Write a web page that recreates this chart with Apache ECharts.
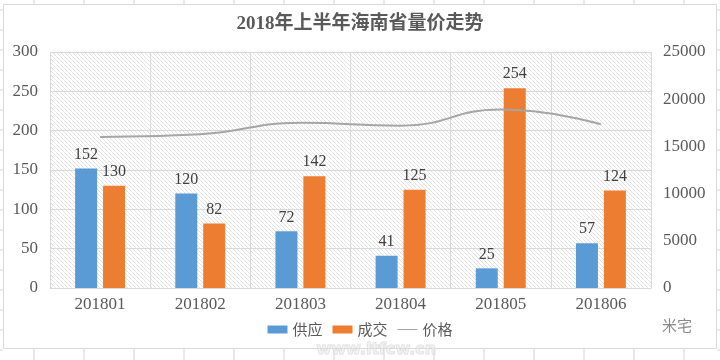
<!DOCTYPE html>
<html>
<head>
<meta charset="utf-8">
<script src="https://cdn.jsdelivr.net/npm/echarts@6/dist/echarts.min.js"></script>
<style>
html,body{margin:0;padding:0;background:#fff;}
#c{width:720px;height:360px;}
</style>
</head>
<body>
<div id="c"></div>
<script>
var categories = ['201801','201802','201803','201804','201805','201806'];
var supply = [152, 120, 72, 41, 25, 57];
var deals = [130, 82, 142, 125, 254, 124];
var price = [16000, 16300, 17500, 17200, 18900, 17350];
var leftTicks = [0, 300, 50];
var rightTicks = [0, 25000, 5000];

function hatch() {
  var cv = document.createElement('canvas');
  cv.width = 4; cv.height = 4;
  var g = cv.getContext('2d');
  g.fillStyle = '#ffffff';
  g.fillRect(0,0,4,4);
  g.strokeStyle = '#e2e2e2';
  g.lineWidth = 1;
  g.beginPath();
  g.moveTo(-1,-1); g.lineTo(5,5);
  g.moveTo(-1,3); g.lineTo(1,5);
  g.moveTo(3,-1); g.lineTo(5,1);
  g.stroke();
  return cv;
}

var serif = '"Liberation Serif","DejaVu Serif",serif';
var cjk = '"Liberation Serif","Noto Sans CJK SC",serif';

var bg = [];
for (var x = 34; x < 720; x += 50) {
  bg.push({type:'line', shape:{x1:x,y1:349,x2:x,y2:360}, style:{stroke:'#d4d4d4',lineWidth:1}, z:-10});
  bg.push({type:'line', shape:{x1:x,y1:0,x2:x,y2:4}, style:{stroke:'#d4d4d4',lineWidth:1}, z:-10});
}
for (var y = 10; y < 360; y += 20) {
  bg.push({type:'line', shape:{x1:0,y1:y,x2:3,y2:y}, style:{stroke:'#d4d4d4',lineWidth:1}, z:-10});
  bg.push({type:'line', shape:{x1:717,y1:y,x2:720,y2:y}, style:{stroke:'#d4d4d4',lineWidth:1}, z:-10});
}
bg.push({type:'rect', shape:{x:3.5,y:4.5,width:713,height:344}, style:{fill:'#ffffff',stroke:'#d9d9d9',lineWidth:1}, z:-9});
bg.push({type:'text', left:316, top:341, style:{text:'www.ltfcw.cn', fill:'rgba(235,235,235,0.6)', stroke:'rgba(200,200,200,0.6)', lineWidth:1, font:'bold 16px "DejaVu Sans"'}, z:20});
bg.push({type:'text', left:662, top:318, style:{text:'米宅', fill:'#8a8a8a', font:'15px "Noto Sans CJK SC"'}, z:20});

var chart = echarts.init(document.getElementById('c'));
chart.setOption({
  backgroundColor: '#ffffff',
  animation: false,
  graphic: bg,
  title: {
    text: '2018年上半年海南省量价走势',
    left: 'center', top: 10,
    textStyle: {fontFamily: cjk, fontSize: 19, fontWeight: 'bold', color: '#595959'}
  },
  legend: {
    bottom: 18, left: 'center',
    itemWidth: 20, itemHeight: 8, itemGap: 10,
    textStyle: {fontFamily: '"Noto Sans CJK SC"', fontSize: 15, color: '#595959'},
    data: [
      {name:'供应', icon:'rect'},
      {name:'成交', icon:'rect'},
      {name:'价格', icon:'path://M0,0 L0,0.01 Z M0,3.5 L20,3.5 L20,4.5 L0,4.5 Z M20,8 L20,7.99 Z'}
    ]
  },
  grid: {
    left: 50, right: 69, top: 52, bottom: 72,
    show: true, borderWidth: 0,
    backgroundColor: {image: hatch(), repeat: 'repeat'}
  },
  xAxis: {
    type: 'category', data: categories,
    axisTick: {show: false},
    axisLine: {lineStyle: {color: '#d9d9d9'}},
    splitLine: {show: true, lineStyle: {color: '#d9d9d9'}},
    axisLabel: {fontFamily: serif, fontSize: 17, color: '#595959', margin: 8}
  },
  yAxis: [{
    type: 'value', min: leftTicks[0], max: leftTicks[1], interval: leftTicks[2],
    axisLine: {show: false}, axisTick: {show: false},
    splitLine: {lineStyle: {color: '#d9d9d9'}},
    axisLabel: {fontFamily: serif, fontSize: 17, color: '#595959', margin: 12}
  }, {
    type: 'value', min: rightTicks[0], max: rightTicks[1], interval: rightTicks[2],
    axisLine: {show: false}, axisTick: {show: false},
    splitLine: {show: false},
    axisLabel: {fontFamily: serif, fontSize: 17, color: '#595959', margin: 12,
      formatter: function (v) { return String(v); }}
  }],
  series: [{
    name: '供应', type: 'bar', data: supply,
    barWidth: 22, barGap: '27%',
    itemStyle: {color: '#5B9BD5'},
    label: {show: true, position: 'top', distance: 6, fontFamily: serif, fontSize: 16, color: '#404040'}
  }, {
    name: '成交', type: 'bar', data: deals,
    barWidth: 22, barGap: '27%',
    itemStyle: {color: '#ED7D31'},
    label: {show: true, position: 'top', distance: 6, fontFamily: serif, fontSize: 16, color: '#404040'}
  }, {
    name: '价格', type: 'line', yAxisIndex: 1, data: price,
    smooth: 0.5, symbol: 'none',
    lineStyle: {color: '#A5A5A5', width: 2},
    itemStyle: {color: '#A5A5A5'}
  }]
});
</script>
</body>
</html>
